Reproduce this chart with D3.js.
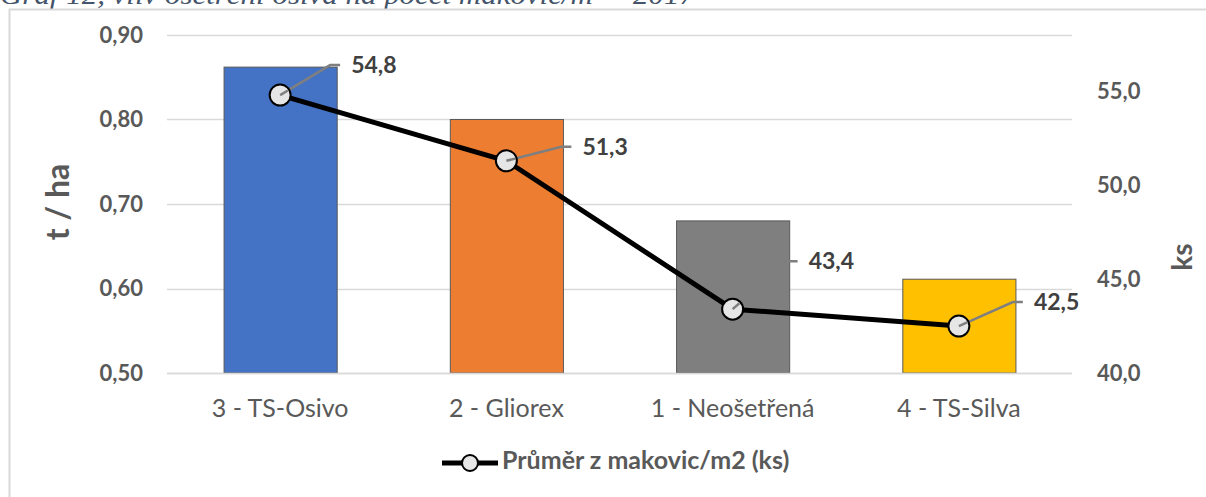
<!DOCTYPE html>
<html>
<head>
<meta charset="utf-8">
<script src="https://cdn.jsdelivr.net/npm/d3@7"></script>
<style>
  html, body { margin: 0; padding: 0; background: #fff; }
  svg { display: block; }
  text { font-family: Lato, "Open Sans", sans-serif; }
</style>
</head>
<body>
<svg id="chart" width="1206" height="497"></svg>
<script>
// Treatment variants (x categories)
const categories = ["3 - TS-Osivo", "2 - Gliorex", "1 - Neošetřená", "4 - TS-Silva"];
// Yield, t / ha (bars, left axis)
const yieldValues = [0.862, 0.80, 0.68, 0.611];
// Average number of poppy heads per m2, ks (line, right axis)
const headValues = [54.8, 51.3, 43.4, 42.5];
const seriesName = "Průměr z makovic/m2 (ks)";
const leftTicks = [0.5, 0.6, 0.7, 0.8, 0.9];
const rightTicks = [40, 45, 50, 55];
const barColors = ["#4472c4", "#ed7d31", "#7f7f7f", "#ffc000"];

const svg = d3.select("#chart");
const plot = { left: 167, right: 1072, top: 35, bottom: 373 };

// Caption above the chart frame
svg.append("text")
  .attr("x", 0).attr("y", 4)
  .attr("textLength", 695).attr("lengthAdjust", "spacingAndGlyphs")
  .style("font-family", "'Liberation Serif', serif")
  .style("font-style", "italic")
  .style("font-size", "27px")
  .attr("fill", "#44546a")
  .text("Graf 12, vliv ošetření osiva na počet makovic/m² – 2017");

// Chart frame
svg.append("path")
  .attr("d", "M9.5,497 V9.5 H1206")
  .attr("fill", "none").attr("stroke", "#d9d9d9").attr("stroke-width", 2);

const x = d3.scaleBand().domain(categories)
  .range([plot.left, plot.right]).paddingInner(0.5).paddingOuter(0.25);
const yL = d3.scaleLinear().domain([0.5, 0.9]).range([plot.bottom, plot.top]);
const yR = d3.scaleLinear().domain([40, 58]).range([plot.bottom, plot.top]);

const fmt2 = v => d3.format(".2f")(v).replace(".", ",");
const fmt1 = v => d3.format(".1f")(v).replace(".", ",");

// Gridlines
svg.append("g").selectAll("line").data(leftTicks).join("line")
  .attr("x1", plot.left).attr("x2", plot.right)
  .attr("y1", d => Math.round(yL(d)) + 0.5).attr("y2", d => Math.round(yL(d)) + 0.5)
  .attr("stroke", "#d9d9d9").attr("stroke-width", 1.5);

// Left axis
const leftAxis = svg.append("g")
  .attr("transform", `translate(${plot.left - 24},0)`)
  .call(d3.axisLeft(yL).tickValues(leftTicks).tickFormat(fmt2).tickSize(0).tickPadding(0));
leftAxis.select(".domain").remove();
leftAxis.selectAll("text")
  .style("font-family", "Lato, sans-serif").style("font-size", "22px")
  .style("font-weight", "bold").attr("fill", "#595959");

// Right axis
const rightAxis = svg.append("g")
  .attr("transform", `translate(${plot.right + 25},0)`)
  .call(d3.axisRight(yR).tickValues(rightTicks).tickFormat(fmt1).tickSize(0).tickPadding(0));
rightAxis.select(".domain").remove();
rightAxis.selectAll("text")
  .style("font-family", "Lato, sans-serif").style("font-size", "22px")
  .style("font-weight", "bold").attr("fill", "#595959");

// Category axis
const catAxis = svg.append("g")
  .attr("transform", `translate(0,${plot.bottom})`)
  .call(d3.axisBottom(x).tickSize(0).tickPadding(26));
catAxis.select(".domain").remove();
catAxis.selectAll("text")
  .style("font-family", "Lato, sans-serif").style("font-size", "25px")
  .style("font-weight", "normal").attr("fill", "#595959");

// Axis titles
svg.append("text")
  .attr("transform", "translate(69,202) rotate(-90)")
  .attr("text-anchor", "middle")
  .style("font-size", "32px").style("font-weight", "bold").attr("fill", "#595959")
  .text("t / ha");
svg.append("text")
  .attr("transform", "translate(1192,257) rotate(-90)")
  .attr("text-anchor", "middle")
  .style("font-size", "28px").style("font-weight", "bold").attr("fill", "#595959")
  .text("ks");

// Bars
svg.append("g").selectAll("rect").data(categories).join("rect")
  .attr("x", d => x(d) + 0.5)
  .attr("y", (d, i) => yL(yieldValues[i]))
  .attr("width", x.bandwidth())
  .attr("height", (d, i) => yL(0.5) - yL(yieldValues[i]))
  .attr("fill", (d, i) => barColors[i])
  .attr("stroke", "#595959").attr("stroke-width", 1);

// Bottom axis line
svg.append("line")
  .attr("x1", plot.left).attr("x2", plot.right)
  .attr("y1", Math.round(yL(0.5)) + 0.5).attr("y2", Math.round(yL(0.5)) + 0.5)
  .attr("stroke", "#d9d9d9").attr("stroke-width", 1.5);

const cx = i => x(categories[i]) + x.bandwidth() / 2;
const pts = headValues.map((v, i) => [cx(i), yR(v)]);

// Line series
svg.append("path")
  .attr("d", d3.line()(pts))
  .attr("fill", "none").attr("stroke", "#000").attr("stroke-width", 5)
  .attr("stroke-linejoin", "round");

// Leader lines and value labels (elbow offsets relative to each point)
const labelOffsets = [[50, -30], [55, -14], [55, -48], [54, -24]];
const labels = svg.append("g");
pts.forEach(([px, py], i) => {
  const [dx, dy] = labelOffsets[i];
  labels.append("path")
    .attr("d", `M${px},${py} L${px + dx},${py + dy} H${px + dx + 10}`)
    .attr("fill", "none").attr("stroke", "#7f7f7f").attr("stroke-width", 2.5);
});

// Markers
svg.append("g").selectAll("circle").data(pts).join("circle")
  .attr("cx", d => d[0]).attr("cy", d => d[1]).attr("r", 10.5)
  .attr("fill", "#e7e6e6").attr("stroke", "#000").attr("stroke-width", 2);

// Leader line starts, drawn over the markers
pts.forEach(([px, py], i) => {
  const [dx, dy] = labelOffsets[i];
  const len = Math.hypot(dx, dy);
  svg.append("line")
    .attr("x1", px).attr("y1", py)
    .attr("x2", px + dx / len * 9).attr("y2", py + dy / len * 9)
    .attr("stroke", "#7f7f7f").attr("stroke-width", 2.5);
});
pts.forEach(([px, py], i) => {
  const [dx, dy] = labelOffsets[i];
  svg.append("text")
    .attr("x", px + dx + 21).attr("y", py + dy + 2)
    .attr("dominant-baseline", "middle")
    .style("font-size", "23px").style("font-weight", "bold").attr("fill", "#404040")
    .text(fmt1(headValues[i]));
});

// Legend
const lg = svg.append("g").attr("transform", "translate(442,463)");
lg.append("line").attr("x1", 0).attr("x2", 56).attr("y1", 0).attr("y2", 0)
  .attr("stroke", "#000").attr("stroke-width", 5);
lg.append("circle").attr("cx", 28).attr("cy", 0).attr("r", 8)
  .attr("fill", "#e7e6e6").attr("stroke", "#000").attr("stroke-width", 2);
lg.append("text").attr("x", 60).attr("y", 0)
  .attr("dominant-baseline", "middle")
  .style("font-size", "25px").style("font-weight", "bold").attr("fill", "#595959")
  .text(seriesName);
</script>
</body>
</html>
